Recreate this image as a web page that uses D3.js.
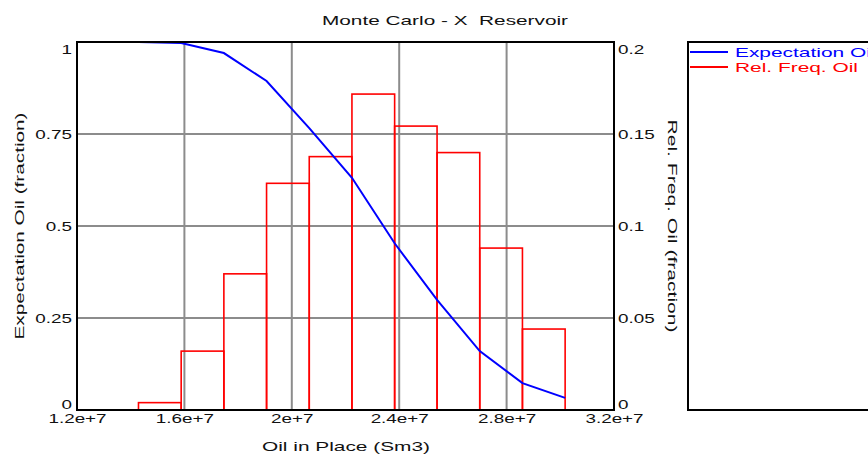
<!DOCTYPE html>
<html>
<head>
<meta charset="utf-8">
<script src="https://cdn.jsdelivr.net/npm/d3@7"></script>
<style>
  body { margin: 0; background: #fff; }
  text { font-family: "Liberation Sans", Arial, sans-serif; fill: #111; }
</style>
</head>
<body>
<div id="chart"></div>
<script>
// bin edges of the histogram (Sm3)
const binEdges = [1.429e7, 1.588e7, 1.747e7, 1.906e7, 2.065e7, 2.224e7, 2.383e7, 2.541e7, 2.700e7, 2.859e7, 3.018e7];
// relative frequency per bin
const relFreq = [0.004, 0.032, 0.074, 0.1232, 0.1377, 0.1717, 0.1543, 0.1399, 0.088, 0.044];
// expectation curve at the bin edges
const expectation = [1.0, 0.997, 0.970, 0.894, 0.766, 0.631, 0.453, 0.299, 0.160, 0.073, 0.033];

const xTicks = [1.2e7, 1.6e7, 2e7, 2.4e7, 2.8e7, 3.2e7];
const xTickLabels = ["1.2e+7", "1.6e+7", "2e+7", "2.4e+7", "2.8e+7", "3.2e+7"];
const leftTicks = [0, 0.25, 0.5, 0.75, 1];
const leftTickLabels = ["0", "0.25", "0.5", "0.75", "1"];
const rightTicks = [0, 0.05, 0.1, 0.15, 0.2];
const rightTickLabels = ["0", "0.05", "0.1", "0.15", "0.2"];

const width = 868, height = 454;
const plot = { left: 77, top: 42, right: 614, bottom: 410 };

const svg = d3.select("#chart").append("svg")
    .attr("width", width)
    .attr("height", height);

const x = d3.scaleLinear().domain([1.2e7, 3.2e7]).range([plot.left, plot.right]);
const yL = d3.scaleLinear().domain([0, 1]).range([plot.bottom, plot.top]);
const yR = d3.scaleLinear().domain([0, 0.2]).range([plot.bottom, plot.top]);

// text in the original is drawn wider than normal
function stretch(sel, k) {
    sel.each(function () {
        const w = this.getComputedTextLength();
        d3.select(this).attr("textLength", w * k).attr("lengthAdjust", "spacingAndGlyphs");
    });
}

// grid
const grid = svg.append("g").attr("stroke", "#8c8c8c").attr("stroke-width", 2);
grid.selectAll(".gx").data(xTicks.slice(1, -1)).enter().append("line")
    .attr("x1", d => x(d)).attr("x2", d => x(d))
    .attr("y1", plot.top).attr("y2", plot.bottom);
grid.selectAll(".gy").data(leftTicks.slice(1, -1)).enter().append("line")
    .attr("x1", plot.left).attr("x2", plot.right)
    .attr("y1", d => yL(d)).attr("y2", d => yL(d));

// histogram bars
svg.append("g").selectAll("rect")
    .data(relFreq)
    .enter().append("rect")
    .attr("x", (d, i) => x(binEdges[i]))
    .attr("width", (d, i) => x(binEdges[i + 1]) - x(binEdges[i]))
    .attr("y", d => yR(d))
    .attr("height", d => plot.bottom - yR(d))
    .attr("fill", "none")
    .attr("stroke", "#ff0000")
    .attr("stroke-width", 1.6);

// expectation line
const line = d3.line()
    .x((d, i) => x(binEdges[i]))
    .y(d => yL(d));
svg.append("path")
    .datum(expectation)
    .attr("d", line)
    .attr("fill", "none")
    .attr("stroke", "#0000ff")
    .attr("stroke-width", 2);

// frame
svg.append("rect")
    .attr("x", plot.left).attr("y", plot.top)
    .attr("width", plot.right - plot.left).attr("height", plot.bottom - plot.top)
    .attr("fill", "none").attr("stroke", "#000").attr("stroke-width", 2);

// axes
const xAxis = svg.append("g")
    .attr("transform", `translate(0,${plot.bottom})`)
    .call(d3.axisBottom(x).tickValues(xTicks).tickFormat((d, i) => xTickLabels[i]).tickSize(0).tickPadding(4));
const lAxis = svg.append("g")
    .attr("transform", `translate(${plot.left},0)`)
    .call(d3.axisLeft(yL).tickValues(leftTicks).tickFormat((d, i) => leftTickLabels[i]).tickSize(0).tickPadding(5));
const rAxis = svg.append("g")
    .attr("transform", `translate(${plot.right},0)`)
    .call(d3.axisRight(yR).tickValues(rightTicks).tickFormat((d, i) => rightTickLabels[i]).tickSize(0).tickPadding(4));

[xAxis, lAxis, rAxis].forEach(a => {
    a.select(".domain").remove();
    a.selectAll("text").attr("font-size", 13).attr("font-family", null).attr("fill", "#111");
    stretch(a.selectAll("text"), 1.45);
});
// end labels kept inside the frame
[lAxis, rAxis].forEach(a => {
    const t = a.selectAll(".tick text");
    t.filter((d, i) => i === 0).attr("dy", "-0.15em");
    t.filter((d, i, n) => i === n.length - 1).attr("dy", "0.85em");
});

// title and axis titles
svg.append("text")
    .attr("x", 445).attr("y", 25)
    .attr("text-anchor", "middle").attr("font-size", 13)
    .style("white-space", "pre")
    .attr("textLength", 246).attr("lengthAdjust", "spacingAndGlyphs")
    .text("Monte Carlo - X  Reservoir");

svg.append("text")
    .attr("x", 346).attr("y", 451)
    .attr("text-anchor", "middle").attr("font-size", 13.5)
    .attr("textLength", 168).attr("lengthAdjust", "spacingAndGlyphs")
    .text("Oil in Place (Sm3)");

svg.append("text")
    .attr("transform", `translate(24,226) rotate(-90)`)
    .attr("text-anchor", "middle").attr("font-size", 13.5)
    .attr("textLength", 227).attr("lengthAdjust", "spacingAndGlyphs")
    .text("Expectation Oil (fraction)");

svg.append("text")
    .attr("transform", `translate(668,226) rotate(90)`)
    .attr("text-anchor", "middle").attr("font-size", 13.5)
    .attr("textLength", 213).attr("lengthAdjust", "spacingAndGlyphs")
    .text("Rel. Freq. Oil (fraction)");

// legend
svg.append("rect")
    .attr("x", 688).attr("y", plot.top)
    .attr("width", 220).attr("height", plot.bottom - plot.top)
    .attr("fill", "none").attr("stroke", "#000").attr("stroke-width", 2);

const legendItems = [
    { label: "Expectation Oil", color: "#0000ff" },
    { label: "Rel. Freq. Oil", color: "#ff0000" }
];
const lg = svg.append("g").selectAll("g")
    .data(legendItems).enter().append("g")
    .attr("transform", (d, i) => `translate(0,${52 + i * 15})`);
lg.append("line")
    .attr("x1", 690).attr("x2", 728)
    .attr("stroke", d => d.color).attr("stroke-width", 2);
const lt = lg.append("text")
    .attr("x", 735).attr("y", 5)
    .attr("font-size", 13)
    .style("fill", d => d.color)
    .text(d => d.label);
// widen legend text so "Rel. Freq. Oil" spans ~123px
const relNode = lt.filter((d, i) => i === 1).node();
const k = 123 / relNode.getComputedTextLength();
stretch(lt, k);
</script>
</body>
</html>
